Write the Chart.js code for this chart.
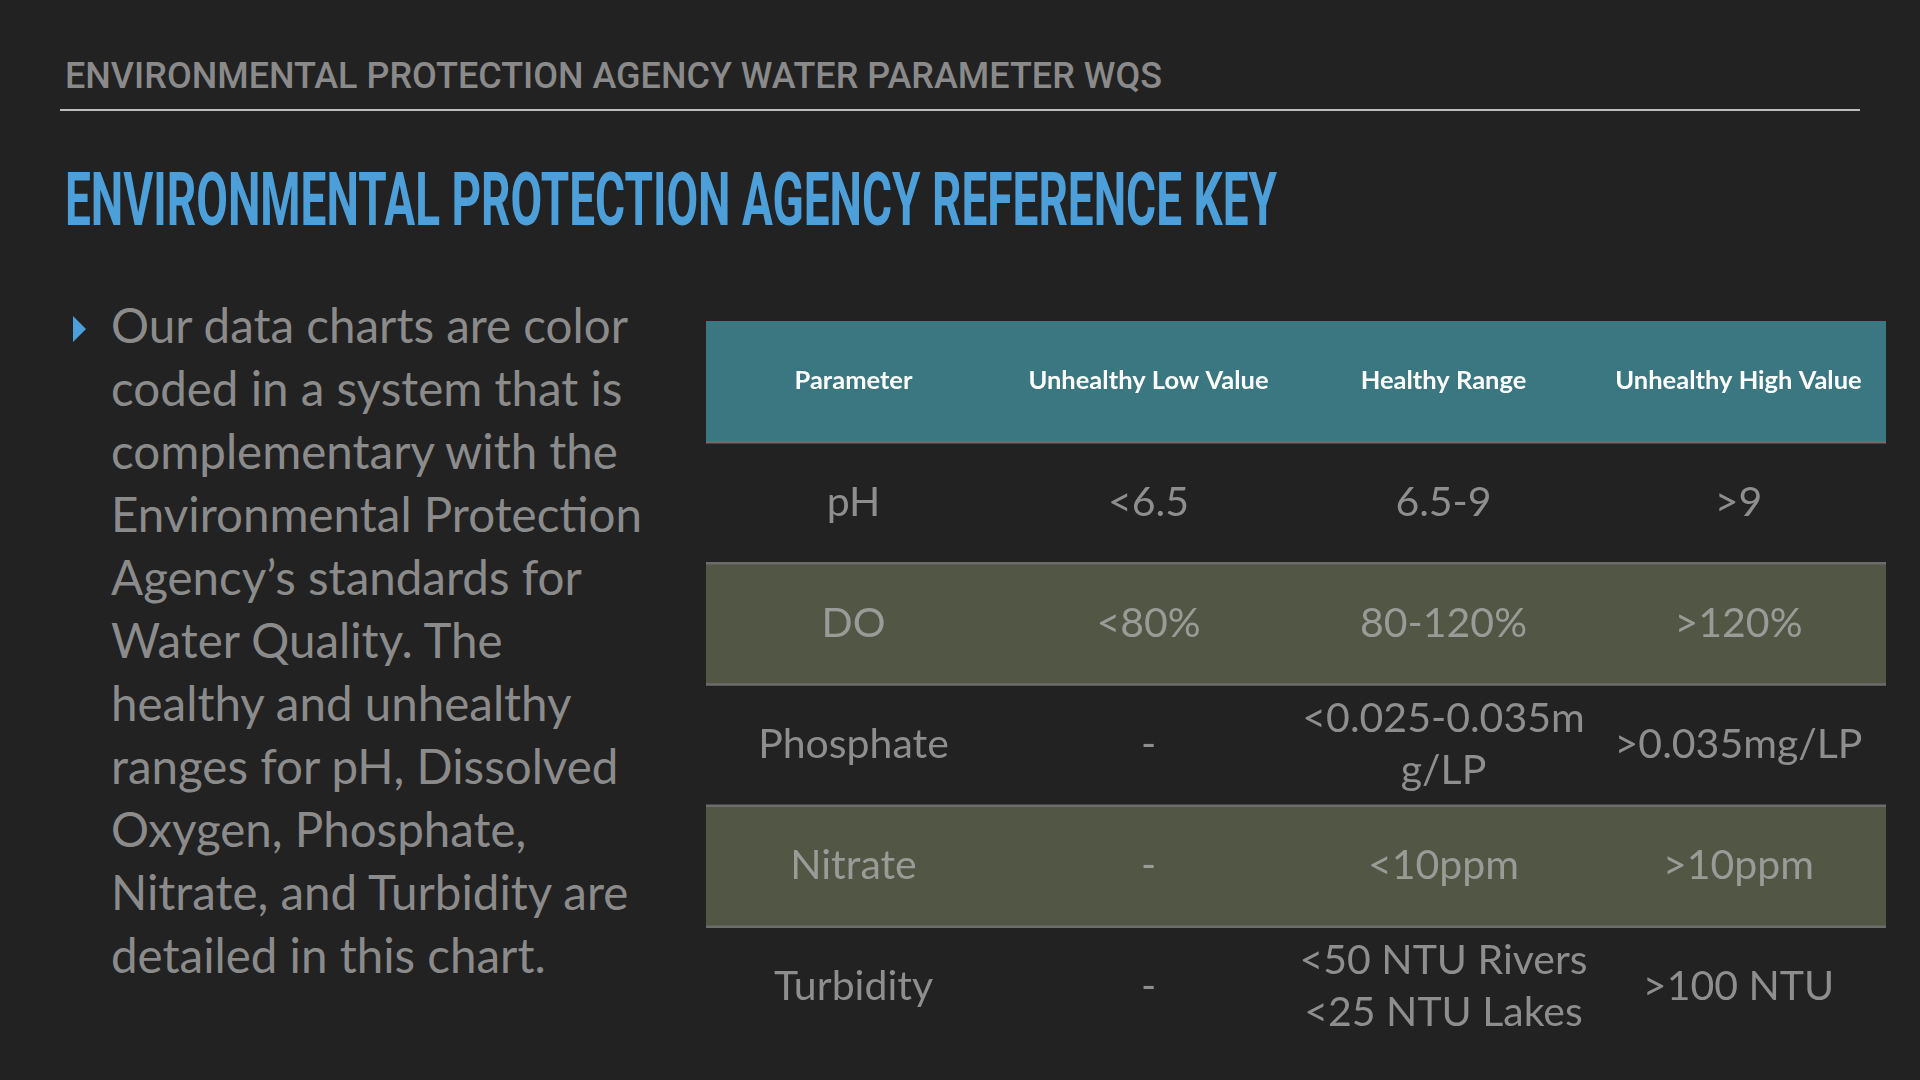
<!DOCTYPE html>
<html><head><meta charset="utf-8">
<script src="https://cdn.jsdelivr.net/npm/chart.js@4.4.1/dist/chart.umd.min.js"></script>
<style>
html,body{margin:0;padding:0;background:#222222;}
body{width:1920px;height:1080px;overflow:hidden;position:relative;font-family:Lato,sans-serif;}
.fit{position:absolute;white-space:nowrap;transform-origin:0 0;}
#kicker{left:65px;top:57px;font:500 37px/1 Roboto;color:#8a8a8a;}
#rule{position:absolute;left:60px;top:109px;width:1800px;height:2px;background:#bdbdbd;}
#title{left:65px;top:163px;font:700 74px/1 Roboto;color:#4c9fd9;}
#bullet{position:absolute;left:73px;top:316px;width:0;height:0;border-left:13px solid #4c9fd9;border-top:13px solid transparent;border-bottom:13px solid transparent;}
#para{position:absolute;left:111px;top:293px;font:400 47.5px/63px Lato;color:#8b8b8b;white-space:nowrap;}
#tableWrap{position:absolute;left:706px;top:321px;width:1180px;height:727px;}
</style></head>
<body>
<div id="kicker" class="fit">ENVIRONMENTAL PROTECTION AGENCY WATER PARAMETER WQS</div>
<div id="rule"></div>
<div id="title" class="fit">ENVIRONMENTAL PROTECTION AGENCY REFERENCE KEY</div>
<div id="bullet"></div>
<div id="para">Our data charts are color<br>coded in a system that is<br>complementary with the<br>Environmental Protection<br>Agency’s standards for<br>Water Quality. The<br>healthy and unhealthy<br>ranges for pH, Dissolved<br>Oxygen, Phosphate,<br>Nitrate, and Turbidity are<br>detailed in this chart.</div>
<div id="tableWrap"><canvas id="c"></canvas></div>
<script>
// ---- data ----
const columns = ['Parameter', 'Unhealthy Low Value', 'Healthy Range', 'Unhealthy High Value'];
const parameters = ['pH', 'DO', 'Phosphate', 'Nitrate', 'Turbidity'];
const unhealthyLow = ['<6.5', '<80%', '-', '-', '-'];
const healthyRange = ['6.5-9', '80-120%', '<0.025-0.035m\ng/LP', '<10ppm', '<50 NTU Rivers\n<25 NTU Lakes'];
const unhealthyHigh = ['>9', '>120%', '>0.035mg/LP', '>10ppm', '>100 NTU'];

// ---- styles ----
const HEADER_BG = '#3a7780';
const ROW_BG = ['rgba(0,0,0,0)', '#525645'];
const SEP = '#6c6c6c';
const CELL_COLOR = ['#8e8e8e', '#9a9b97'];

function fit(id, w) {
  const el = document.getElementById(id);
  el.style.transform = 'scaleX(' + (w / el.getBoundingClientRect().width) + ')';
}

const rowKeys = ['header'].concat(parameters);
const cellRows = [columns].concat(parameters.map((p, i) => [p, unhealthyLow[i], healthyRange[i], unhealthyHigh[i]]));

const tablePlugin = {
  id: 'tableText',
  afterDatasetsDraw(chart) {
    const ctx = chart.ctx, xs = chart.scales.x, ys = chart.scales.y;
    const area = chart.chartArea;
    ctx.save();
    ctx.strokeStyle = SEP; ctx.lineWidth = 2.5;
    for (let r = 0; r < rowKeys.length - 1; r++) {
      const yb = (ys.getPixelForValue(r) + ys.getPixelForValue(r + 1)) / 2;
      ctx.beginPath(); ctx.moveTo(area.left, yb); ctx.lineTo(area.right, yb); ctx.stroke();
    }
    ctx.textAlign = 'center'; ctx.textBaseline = 'alphabetic';
    cellRows.forEach((cells, r) => {
      const cy = ys.getPixelForValue(r);
      const header = r === 0;
      const fs = header ? 25.5 : 41;
      ctx.font = (header ? '700 ' : '400 ') + fs + 'px Lato';
      ctx.fillStyle = header ? '#ffffff' : CELL_COLOR[(r + 1) % 2];
      cells.forEach((txt, c) => {
        const cx = xs.getPixelForValue(c + 0.5);
        const lines = txt.split('\n');
        const lh = 52;
        lines.forEach((ln, k) => {
          const ly = cy + (k - (lines.length - 1) / 2) * lh + 0.36 * fs - 2;
          ctx.fillText(ln, cx, ly);
        });
      });
    });
    ctx.restore();
  }
};

Promise.all([
  document.fonts.load('400 41px Lato'),
  document.fonts.load('700 25px Lato'),
  document.fonts.load('400 47px Lato'),
  document.fonts.load('700 74px Roboto'),
  document.fonts.load('500 37px Roboto')
]).catch(() => {}).then(() => {
  fit('kicker', 1097);
  fit('title', 1212);
  new Chart(document.getElementById('c'), {
    type: 'bar',
    data: {
      labels: rowKeys,
      datasets: [{
        data: rowKeys.map(() => [0, columns.length]),
        backgroundColor: rowKeys.map((k, i) => i === 0 ? HEADER_BG : ROW_BG[(i + 1) % 2]),
        borderWidth: 0,
        borderSkipped: false,
        barPercentage: 1,
        categoryPercentage: 1
      }]
    },
    options: {
      indexAxis: 'y',
      responsive: true,
      maintainAspectRatio: false,
      animation: false,
      events: [],
      layout: { padding: 0 },
      plugins: { legend: { display: false }, tooltip: { enabled: false } },
      scales: {
        x: { type: 'linear', min: 0, max: columns.length, display: false },
        y: { type: 'category', display: false, offset: true }
      }
    },
    plugins: [tablePlugin]
  });
});
</script>
</body></html>
